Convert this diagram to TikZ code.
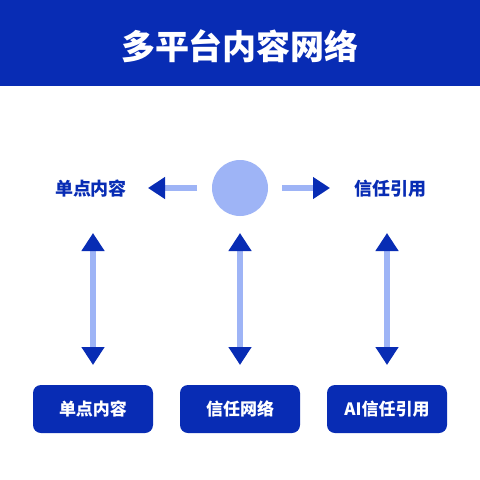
\documentclass[tikz,border=0pt]{standalone}
\usepackage{fontspec}
\setmainfont{Noto Sans CJK SC}
\newfontfamily\heavycjk{Noto Sans CJK SC Black}
\usepackage{tikz}
\usetikzlibrary{arrows.meta}
\definecolor{brandBlue}{RGB}{8,44,180}
\definecolor{paleBlue}{RGB}{158,180,246}

\begin{document}
\begin{tikzpicture}[x=1pt, y=-1pt]%
  \tikzset{
    flow arrow/.style={draw=paleBlue, line width=6.5pt, -{Triangle[length=17pt, width=21pt, color=brandBlue]}},
    both arrow/.style={draw=paleBlue, line width=6.5pt, {Triangle[length=18pt, width=22pt, color=brandBlue]}-{Triangle[length=18pt, width=22pt, color=brandBlue]}},
    outlet/.style={fill=brandBlue, text=white, rounded corners=8pt, minimum width=120pt, minimum height=48pt, inner sep=0pt, font=\bfseries\fontsize{17}{20}\selectfont},
    side label/.style={text=brandBlue, inner sep=0pt, font=\bfseries\fontsize{18}{21}\selectfont}
  }
  \useasboundingbox (0,0) rectangle (480,480);
  \fill[white] (0,0) rectangle (480,480);

  % header band
  \fill[brandBlue] (0,0) rectangle (480,86);
  \node[text=white, font=\heavycjk\fontsize{34}{40}\selectfont] at (240,46) (title) {多平台内容网络};

  \node[circle, fill=paleBlue, minimum size=56pt, inner sep=0pt] at (240,188) (hub) {};
  \node[side label] at (91,189) (single) {单点内容};
  \node[side label] at (390,189) (trust) {信任引用};

  \node[outlet] at (93,409) (outA) {单点内容};
  \node[outlet] at (240,409) (outB) {信任网络};
  \node[outlet] at (387,409) (outC) {AI信任引用};

  \path[flow arrow, shorten <=43pt, shorten >=57pt] (hub.center) -- (hub.center -| single.center);
  \path[flow arrow, shorten <=42pt, shorten >=60pt] (hub.center) -- (hub.center -| trust.center);

  \path[both arrow, shorten <=44pt, shorten >=44pt] (outA.center |- single.center) -- (outA.center);
  \path[both arrow, shorten <=45pt, shorten >=44pt] (hub.center) -- (outB.center);
  \path[both arrow, shorten <=44pt, shorten >=44pt] (outC.center |- trust.center) -- (outC.center);
\end{tikzpicture}
\end{document}
